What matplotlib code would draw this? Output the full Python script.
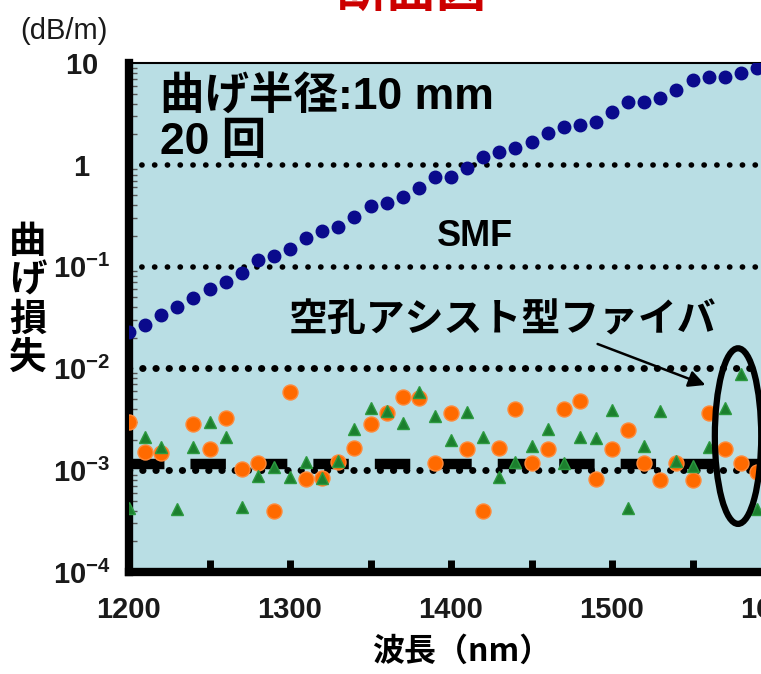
import matplotlib
matplotlib.use('Agg')
import matplotlib.pyplot as plt
from matplotlib.patches import Ellipse
from matplotlib.ticker import MultipleLocator, LogLocator, FixedLocator

plt.rcParams['mathtext.fontset'] = 'custom'
plt.rcParams['mathtext.rm'] = 'Liberation Sans:bold'
plt.rcParams['mathtext.it'] = 'Liberation Sans:bold'
plt.rcParams['mathtext.bf'] = 'Liberation Sans:bold'

JP = ['Noto Sans CJK JP', 'DejaVu Sans']
MIX = ['Liberation Sans', 'Noto Sans CJK JP', 'DejaVu Sans']
NUM = ['Liberation Sans', 'DejaVu Sans']

# wavelength grid (nm), one reading every 10 nm
wl = [1200 + 10 * i for i in range(41)]

# SMF bend loss (dB/m)
smf = [0.0228, 0.0267, 0.0334, 0.0401, 0.0491, 0.0603, 0.0706, 0.0865, 0.116, 0.127,
       0.149, 0.191, 0.224, 0.245, 0.308, 0.394, 0.422, 0.483, 0.593, 0.760,
       0.760, 0.933, 1.20, 1.34, 1.47, 1.68, 2.06, 2.36, 2.47, 2.64,
       3.31, 4.15, 4.15, 4.55, 5.45, 6.84, 7.31, 7.31, 8.01, 8.97, 9.6]

# hole-assisted fiber, sample A (orange); no reading at 1230 nm
wl_a = [w for w in wl[:40] if w != 1230]
loss_a = [2.96e-3, 1.50e-3, 1.47e-3, 2.83e-3, 1.61e-3, 3.24e-3, 1.02e-3, 1.17e-3, 3.95e-4,
          5.85e-3, 8.16e-4, 8.34e-4, 1.20e-3, 1.64e-3, 2.83e-3, 3.63e-3, 5.22e-3, 5.10e-3,
          1.17e-3, 3.63e-3, 1.61e-3, 3.95e-4, 1.64e-3, 3.98e-3, 1.17e-3, 1.61e-3, 3.98e-3,
          4.76e-3, 8.16e-4, 1.61e-3, 2.47e-3, 1.17e-3, 7.97e-4, 1.17e-3, 7.97e-4, 3.63e-3,
          1.61e-3, 1.17e-3, 9.55e-4]

# hole-assisted fiber, sample B (green)
wl_b = wl[:40]
loss_b = [4.23e-4, 2.11e-3, 1.68e-3, 4.14e-4, 1.68e-3, 2.96e-3, 2.11e-3, 4.33e-4, 8.73e-4, 1.07e-3,
          8.54e-4, 1.20e-3, 8.34e-4, 1.23e-3, 2.53e-3, 4.07e-3, 3.80e-3, 2.90e-3, 5.85e-3, 3.40e-3,
          1.97e-3, 3.72e-3, 2.11e-3, 8.54e-4, 1.20e-3, 1.72e-3, 2.53e-3, 1.17e-3, 2.11e-3, 2.06e-3,
          3.89e-3, 4.23e-4, 1.72e-3, 3.80e-3, 1.23e-3, 1.09e-3, 1.68e-3, 4.07e-3, 8.79e-3, 4.14e-4]

ref_level = 1.15e-3
grid_levels = [1e-3, 1e-2, 1e-1, 1]
y_ticks = [1e-4, 1e-3, 1e-2, 1e-1, 1, 10]
y_labels = [r'$10^{-4}$', r'$10^{-3}$', r'$10^{-2}$', r'$10^{-1}$', r'$1$', r'$10$']
x_ticks = [1200, 1300, 1400, 1500, 1600]

W, H = 761, 674
fig = plt.figure(figsize=(W / 100, H / 100), dpi=100)
ax = fig.add_axes([129 / W, (H - 572) / H, 644 / W, 509 / H])
ax.set_facecolor('#b9dee4')

ax.set_xlim(1200, 1600)
ax.set_yscale('log')
ax.set_ylim(1e-4, 10)

for lev in grid_levels:
    lw = 5.0 if lev < 0.05 else 4.0
    ax.axhline(lev, color='black', lw=lw, ls=(0, (0.05, 1.85 if lev < 0.05 else 2.25)),
               dash_capstyle='round', zorder=1)

ax.axhline(ref_level, color='black', lw=7.5, ls=(0, (3.4, 2.5)),
           dash_capstyle='butt', zorder=2)

ax.plot(wl_a, loss_a, 'o', color='#ff6a00', mec='#ff8a3a', ms=10.8, zorder=3)
ax.plot(wl_b, loss_b, '^', color='#1c7f2e', mec='#2c9a40', ms=8.5, zorder=4)
ax.plot(wl, smf, 'o', color='#0a0a8c', ms=9, zorder=5)

# spines
for side in ['left', 'bottom']:
    ax.spines[side].set_linewidth(6)
ax.spines['top'].set_linewidth(1.5)
ax.spines['right'].set_linewidth(1.5)

ax.xaxis.set_major_locator(FixedLocator(x_ticks))
ax.xaxis.set_minor_locator(MultipleLocator(50))
ax.tick_params(axis='x', which='both', direction='in', length=9, width=5, top=False)
ax.tick_params(axis='x', which='major', pad=17, labelsize=21)
ax.set_xticklabels([str(t) for t in x_ticks], fontfamily=NUM, fontweight='bold', color='#1a1a1a')

ax.set_yticks(y_ticks)
ax.set_yticklabels(y_labels, color='#1a1a1a')
ax.yaxis.set_minor_locator(LogLocator(base=10, subs=range(2, 10)))
ax.yaxis.set_minor_formatter(plt.NullFormatter())
ax.tick_params(axis='y', which='major', direction='in', length=0, pad=34, labelsize=21)
ax.tick_params(axis='y', which='minor', direction='in', length=6, width=1, color='#555555')
for lab in ax.get_yticklabels():
    lab.set_horizontalalignment('center')

# axis titles
fig.text(412 / W, 1 + 8 / H, '断面図', color='#cc0000', fontsize=36, fontweight='bold',
         family=JP, ha='center', va='center')
fig.text(64 / W, 1 - 31 / H, '(dB/m)', fontsize=21, family=NUM, color='#1a1a1a',
         ha='center', va='center')
fig.text(28 / W, 1 - 300 / H, '曲\nげ\n損\n失', fontsize=27, fontweight='bold', family=JP,
         ha='center', va='center', linespacing=1.0)
fig.text(462 / W, 1 - 652 / H, '波長（nm）', fontsize=23, fontweight='bold', family=JP,
         ha='center', va='center')

# annotations inside the plot
fig.text(160 / W, 1 - 97 / H, '曲げ半径:10 mm', fontsize=32, fontweight='bold', family=MIX,
         ha='left', va='center')
fig.text(160 / W, 1 - 142 / H, '20 回', fontsize=32, fontweight='bold', family=MIX,
         ha='left', va='center')
fig.text(475 / W, 1 - 237 / H, 'SMF', fontsize=26, fontweight='bold', family=MIX,
         ha='center', va='center')
fig.text(503 / W, 1 - 320 / H, '空孔アシスト型ファイバ', fontsize=28, fontweight='bold', family=JP,
         ha='center', va='center')

ax.annotate('', xy=(708, H - 386), xycoords='figure pixels',
            xytext=(595, H - 343), textcoords='figure pixels',
            arrowprops=dict(arrowstyle='-|>', lw=1.8, color='black', mutation_scale=25))

ax.add_patch(Ellipse((0.9457, 0.267), 0.072, 0.345, transform=ax.transAxes,
                     fill=False, ec='black', lw=4.5, zorder=6, clip_on=False))

fig.savefig('out.png', dpi=100)
